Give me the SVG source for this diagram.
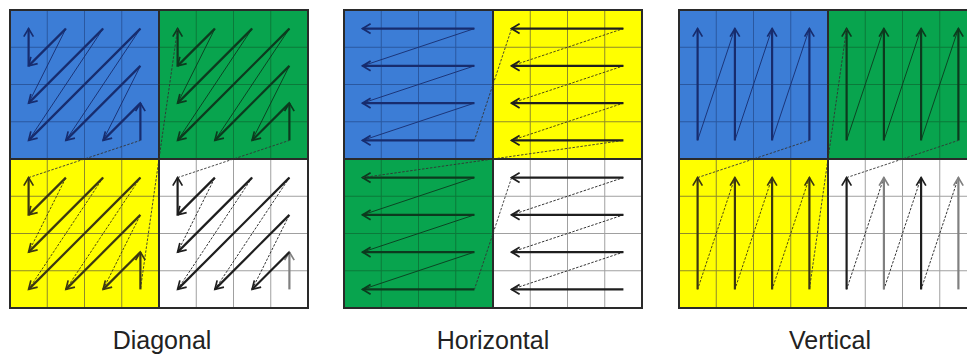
<svg xmlns="http://www.w3.org/2000/svg" width="967" height="357" viewBox="0 0 967 357">
<style>
.bl{fill:#3c7dd6}.gr{fill:#08a44e}.ye{fill:#ffff00}.wh{fill:#ffffff}
.grid{fill:none;stroke-width:1}
.gb{stroke:#2a58a0}.gg{stroke:#0b7a3a}.gy{stroke:#8f8b2a}.gw{stroke:#a0a0a0}
.ar{fill:none;stroke-width:2.2}
.th{fill:none;stroke-width:0.9}
.ds{stroke-dasharray:2.5 1.5}
.cb{stroke:#172c6e}.cg{stroke:#0c3a1e}.cy{stroke:#3b3712}.ck{stroke:#1e1e1e}.cq{stroke:#808080}
.mb{marker-end:url(#mb)}.mg{marker-end:url(#mg)}.my{marker-end:url(#my)}.mk{marker-end:url(#mk)}.mq{marker-end:url(#mq)}
.frame{fill:none;stroke:#2a2a2a;stroke-width:2}
.lbl{font-family:"Liberation Sans",Arial,sans-serif;font-size:25px;fill:#222;text-anchor:middle}
</style>
<defs>
<marker id="mb" markerUnits="userSpaceOnUse" markerWidth="12" markerHeight="12" viewBox="0 0 12 12" refX="10" refY="6" orient="auto"><path d="M2,1.2 L10,6 L2,10.8" fill="none" stroke="#172c6e" stroke-width="1.7"/></marker>
<marker id="mg" markerUnits="userSpaceOnUse" markerWidth="12" markerHeight="12" viewBox="0 0 12 12" refX="10" refY="6" orient="auto"><path d="M2,1.2 L10,6 L2,10.8" fill="none" stroke="#0c3a1e" stroke-width="1.7"/></marker>
<marker id="my" markerUnits="userSpaceOnUse" markerWidth="12" markerHeight="12" viewBox="0 0 12 12" refX="10" refY="6" orient="auto"><path d="M2,1.2 L10,6 L2,10.8" fill="none" stroke="#3b3712" stroke-width="1.7"/></marker>
<marker id="mk" markerUnits="userSpaceOnUse" markerWidth="12" markerHeight="12" viewBox="0 0 12 12" refX="10" refY="6" orient="auto"><path d="M2,1.2 L10,6 L2,10.8" fill="none" stroke="#1e1e1e" stroke-width="1.7"/></marker>
<marker id="mq" markerUnits="userSpaceOnUse" markerWidth="12" markerHeight="12" viewBox="0 0 12 12" refX="10" refY="6" orient="auto"><path d="M2,1.2 L10,6 L2,10.8" fill="none" stroke="#808080" stroke-width="1.7"/></marker>
<path id="grid" d="M37.25,0V149M74.5,0V149M111.75,0V149M0,37.25H149M0,74.5H149M0,111.75H149"/>
</defs>

<!-- ===== Diagonal panel ===== -->
<g id="diagonal">
<g id="d-tl" transform="translate(10,10)">
<rect class="bl" width="149" height="149"/>
<use href="#grid" class="grid gb"/>
<path class="th cb" d="M93.1,130.4L130.4,55.9M55.9,130.4L130.4,18.6M18.6,130.4L93.1,18.6M18.6,93.1L55.9,18.6"/>
<path class="ar cb mb" d="M130.4,130.4V93.1"/>
<path class="ar cb mb" d="M130.4,93.1L93.1,130.4"/>
<path class="ar cb mb" d="M130.4,55.9L55.9,130.4"/>
<path class="ar cb mb" d="M130.4,18.6L18.6,130.4"/>
<path class="ar cb mb" d="M93.1,18.6L18.6,93.1"/>
<path class="ar cb mb" d="M55.9,18.6L18.6,55.9"/>
<path class="ar cb mb" d="M18.6,55.9V18.6"/>
</g>
<g id="d-tr" transform="translate(159,10)">
<rect class="gr" width="149" height="149"/>
<use href="#grid" class="grid gg"/>
<path class="th cg" d="M93.1,130.4L130.4,55.9M55.9,130.4L130.4,18.6M18.6,130.4L93.1,18.6M18.6,93.1L55.9,18.6"/>
<path class="ar cg mg" d="M130.4,130.4V93.1"/>
<path class="ar cg mg" d="M130.4,93.1L93.1,130.4"/>
<path class="ar cg mg" d="M130.4,55.9L55.9,130.4"/>
<path class="ar cg mg" d="M130.4,18.6L18.6,130.4"/>
<path class="ar cg mg" d="M93.1,18.6L18.6,93.1"/>
<path class="ar cg mg" d="M55.9,18.6L18.6,55.9"/>
<path class="ar cg mg" d="M18.6,55.9V18.6"/>
</g>
<g id="d-bl" transform="translate(10,159)">
<rect class="ye" width="149" height="149"/>
<use href="#grid" class="grid gy"/>
<path class="th cy ds" d="M93.1,130.4L130.4,55.9M55.9,130.4L130.4,18.6M18.6,130.4L93.1,18.6M18.6,93.1L55.9,18.6"/>
<path class="ar cy my" d="M130.4,130.4V93.1"/>
<path class="ar cy my" d="M130.4,93.1L93.1,130.4"/>
<path class="ar cy my" d="M130.4,55.9L55.9,130.4"/>
<path class="ar cy my" d="M130.4,18.6L18.6,130.4"/>
<path class="ar cy my" d="M93.1,18.6L18.6,93.1"/>
<path class="ar cy my" d="M55.9,18.6L18.6,55.9"/>
<path class="ar cy my" d="M18.6,55.9V18.6"/>
</g>
<g id="d-br" transform="translate(159,159)">
<rect class="wh" width="149" height="149"/>
<use href="#grid" class="grid gw"/>
<path class="th ck ds" d="M93.1,130.4L130.4,55.9M55.9,130.4L130.4,18.6M18.6,130.4L93.1,18.6M18.6,93.1L55.9,18.6"/>
<path class="ar cq mq" d="M130.4,130.4V93.1"/>
<path class="ar ck mk" d="M130.4,93.1L93.1,130.4"/>
<path class="ar ck mk" d="M130.4,55.9L55.9,130.4"/>
<path class="ar ck mk" d="M130.4,18.6L18.6,130.4"/>
<path class="ar ck mk" d="M93.1,18.6L18.6,93.1"/>
<path class="ar ck mk" d="M55.9,18.6L18.6,55.9"/>
<path class="ar ck mk" d="M18.6,55.9V18.6"/>
</g>
<rect class="frame" x="10" y="10" width="298" height="298"/>
<path class="frame" d="M159,10V308M10,159H308"/>
</g>

<!-- ===== Horizontal panel ===== -->
<g id="horizontal">
<g id="h-tl" transform="translate(344,10)">
<rect class="bl" width="149" height="149"/>
<use href="#grid" class="grid gb"/>
<path class="th cb" d="M18.6,130.4L130.4,93.1M18.6,93.1L130.4,55.9M18.6,55.9L130.4,18.6"/>
<path class="ar cb mb" d="M130.4,18.6H18.6"/>
<path class="ar cb mb" d="M130.4,55.9H18.6"/>
<path class="ar cb mb" d="M130.4,93.1H18.6"/>
<path class="ar cb mb" d="M130.4,130.4H18.6"/>
</g>
<g id="h-tr" transform="translate(493,10)">
<rect class="ye" width="149" height="149"/>
<use href="#grid" class="grid gy"/>
<path class="th cy ds" d="M18.6,130.4L130.4,93.1M18.6,93.1L130.4,55.9M18.6,55.9L130.4,18.6"/>
<path class="ar ck mk" d="M130.4,18.6H18.6"/>
<path class="ar ck mk" d="M130.4,55.9H18.6"/>
<path class="ar ck mk" d="M130.4,93.1H18.6"/>
<path class="ar ck mk" d="M130.4,130.4H18.6"/>
</g>
<g id="h-bl" transform="translate(344,159)">
<rect class="gr" width="149" height="149"/>
<use href="#grid" class="grid gg"/>
<path class="th cg" d="M18.6,130.4L130.4,93.1M18.6,93.1L130.4,55.9M18.6,55.9L130.4,18.6"/>
<path class="ar cg mg" d="M130.4,18.6H18.6"/>
<path class="ar cg mg" d="M130.4,55.9H18.6"/>
<path class="ar cg mg" d="M130.4,93.1H18.6"/>
<path class="ar cg mg" d="M130.4,130.4H18.6"/>
</g>
<g id="h-br" transform="translate(493,159)">
<rect class="wh" width="149" height="149"/>
<use href="#grid" class="grid gw"/>
<path class="th ck ds" d="M18.6,130.4L130.4,93.1M18.6,93.1L130.4,55.9M18.6,55.9L130.4,18.6"/>
<path class="ar ck mk" d="M130.4,18.6H18.6"/>
<path class="ar ck mk" d="M130.4,55.9H18.6"/>
<path class="ar ck mk" d="M130.4,93.1H18.6"/>
<path class="ar ck mk" d="M130.4,130.4H18.6"/>
</g>
<rect class="frame" x="344" y="10" width="298" height="298"/>
<path class="frame" d="M493,10V308M344,159H642"/>
</g>

<!-- ===== Vertical panel ===== -->
<g id="vertical">
<g id="v-tl" transform="translate(679,10)">
<rect class="bl" width="149" height="149"/>
<use href="#grid" class="grid gb"/>
<path class="th cb" d="M130.4,18.6L93.1,130.4M93.1,18.6L55.9,130.4M55.9,18.6L18.6,130.4"/>
<path class="ar cb mb" d="M18.6,130.4V18.6"/>
<path class="ar cb mb" d="M55.9,130.4V18.6"/>
<path class="ar cb mb" d="M93.1,130.4V18.6"/>
<path class="ar cb mb" d="M130.4,130.4V18.6"/>
</g>
<g id="v-tr" transform="translate(828,10)">
<rect class="gr" width="149" height="149"/>
<use href="#grid" class="grid gg"/>
<path class="th cg" d="M130.4,18.6L93.1,130.4M93.1,18.6L55.9,130.4M55.9,18.6L18.6,130.4"/>
<path class="ar cg mg" d="M18.6,130.4V18.6"/>
<path class="ar cg mg" d="M55.9,130.4V18.6"/>
<path class="ar cg mg" d="M93.1,130.4V18.6"/>
<path class="ar cg mg" d="M130.4,130.4V18.6"/>
</g>
<g id="v-bl" transform="translate(679,159)">
<rect class="ye" width="149" height="149"/>
<use href="#grid" class="grid gy"/>
<path class="th cy ds" d="M130.4,18.6L93.1,130.4M93.1,18.6L55.9,130.4M55.9,18.6L18.6,130.4"/>
<path class="ar cy my" d="M18.6,130.4V18.6"/>
<path class="ar cy my" d="M55.9,130.4V18.6"/>
<path class="ar cy my" d="M93.1,130.4V18.6"/>
<path class="ar cy my" d="M130.4,130.4V18.6"/>
</g>
<g id="v-br" transform="translate(828,159)">
<rect class="wh" width="149" height="149"/>
<use href="#grid" class="grid gw"/>
<path class="th ck ds" d="M130.4,18.6L93.1,130.4M93.1,18.6L55.9,130.4M55.9,18.6L18.6,130.4"/>
<path class="ar ck mk" d="M18.6,130.4V18.6"/>
<path class="ar cq mq" d="M55.9,130.4V18.6"/>
<path class="ar ck mk" d="M93.1,130.4V18.6"/>
<path class="ar cq mq" d="M130.4,130.4V18.6"/>
</g>
<rect class="frame" x="679" y="10" width="298" height="298"/>
<path class="frame" d="M828,10V308M679,159H977"/>
</g>

<!-- ===== Connectors between sub-blocks ===== -->
<g id="connectors" class="th ds" stroke="#333">
<path d="M177.6,177.6L289.4,140.4M177.6,28.6L140.4,289.4M28.6,177.6L140.4,140.4"/>
<path d="M511.6,177.6L474.4,289.4M362.6,177.6L623.4,140.4M511.6,28.6L474.4,140.4"/>
<path d="M846.6,177.6L958.4,140.4M846.6,28.6L809.4,289.4M697.6,177.6L809.4,140.4"/>
</g>

<g id="labels">
<text class="lbl" x="162" y="349">Diagonal</text>
<text class="lbl" x="493" y="349">Horizontal</text>
<text class="lbl" x="830" y="349">Vertical</text>
</g>
</svg>
